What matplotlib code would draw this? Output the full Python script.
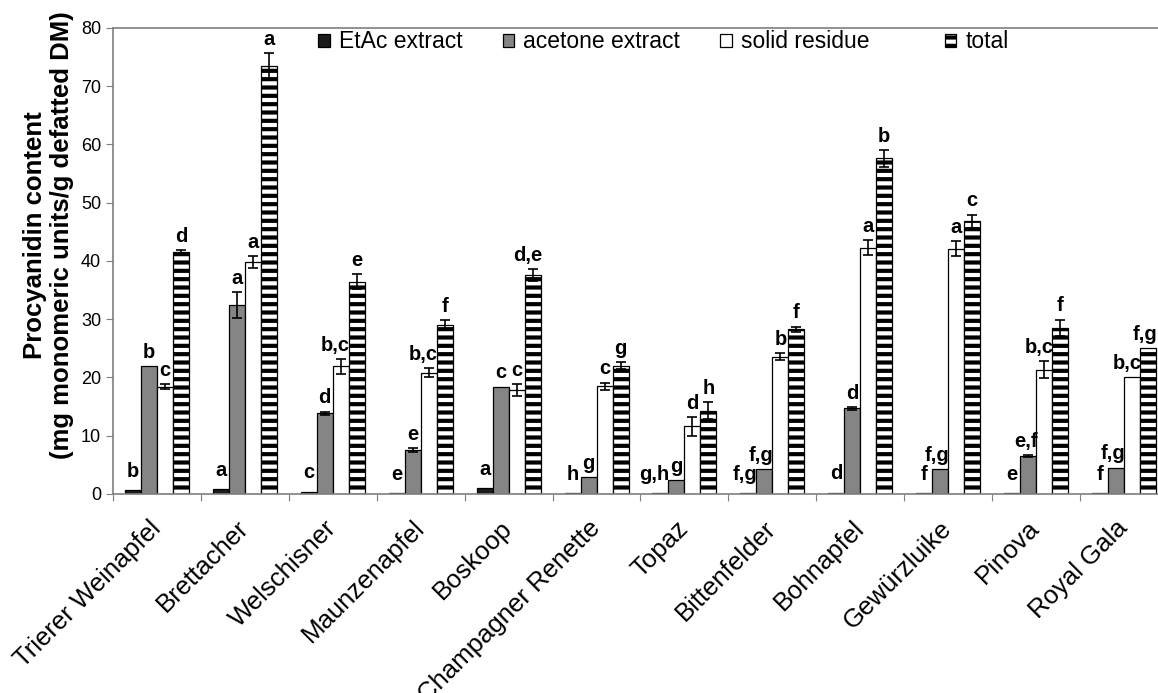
import numpy as np
import matplotlib
matplotlib.use("Agg")
import matplotlib.pyplot as plt

plt.rcParams['font.family'] = ['Liberation Sans', 'DejaVu Sans']
plt.rcParams['hatch.linewidth'] = 3.0

cultivars = ['Trierer Weinapfel', 'Brettacher', 'Welschisner', 'Maunzenapfel',
             'Boskoop', 'Champagner Renette', 'Topaz', 'Bittenfelder',
             'Bohnapfel', 'Gewürzluike', 'Pinova', 'Royal Gala']

etac = [0.6, 0.9, 0.4, 0.2, 1.0, 0.1, 0.1, 0.1, 0.25, 0.1, 0.2, 0.1]
acetone = [21.9, 32.4, 13.85, 7.55, 18.4, 2.9, 2.4, 4.3, 14.7, 4.3, 6.5, 4.5]
solid = [18.4, 39.8, 21.9, 20.8, 17.9, 18.5, 11.6, 23.6, 42.3, 42.1, 21.3, 20.0]
total = [41.5, 73.4, 36.45, 29.0, 37.6, 22.0, 14.3, 28.3, 57.6, 46.8, 28.5, 25.0]

etac_err = [0, 0, 0, 0, 0, 0, 0, 0, 0, 0, 0, 0]
acetone_err = [0, 2.2, 0.3, 0.3, 0, 0, 0, 0, 0.2, 0, 0.2, 0]
solid_err = [0.4, 1.0, 1.25, 0.75, 1.0, 0.6, 1.6, 0.55, 1.3, 1.25, 1.45, 0]
total_err = [0.4, 2.3, 1.25, 0.85, 1.0, 0.6, 1.45, 0.45, 1.4, 1.15, 1.45, 0]

etac_lab = ['b', 'a', 'c', 'e', 'a', 'h', 'g,h', 'f,g', 'd', 'f', 'e', 'f']
acetone_lab = ['b', 'a', 'd', 'e', 'c', 'g', 'g', 'f,g', 'd', 'f,g', 'e,f', 'f,g']
solid_lab = ['c', 'a', 'b,c', 'b,c', 'c', 'c', 'd', 'b', 'a', 'a', 'b,c', 'b,c']
total_lab = ['d', 'a', 'e', 'f', 'd,e', 'g', 'h', 'f', 'b', 'c', 'f', 'f,g']

series = [
    ('EtAc extract', etac, etac_err, etac_lab, dict(color='#1c1c1c')),
    ('acetone extract', acetone, acetone_err, acetone_lab, dict(color='#858585')),
    ('solid residue', solid, solid_err, solid_lab, dict(color='white')),
    ('total', total, total_err, total_lab, dict(color='white', hatch='--')),
]

fig = plt.figure(figsize=(11.58, 6.93), dpi=100)
ax = fig.add_axes([0.0976, 0.2872, 0.911, 0.6724])

x = np.arange(len(cultivars))
w = 0.182
handles = []
for k, (name, vals, errs, labs, style) in enumerate(series):
    pos = x + (k - 1.5) * w
    b = ax.bar(pos, vals, w, edgecolor='black', linewidth=0.9, label=name, **style)
    handles.append(b)
    errs_arr = np.array(errs)
    has = errs_arr > 0
    ax.errorbar(pos[has], np.array(vals)[has], yerr=errs_arr[has], fmt='none',
                ecolor='black', elinewidth=1.2, capsize=3.5, capthick=1.2)
    off = 9.5 if k == 0 else 6
    for xi, v, e, t in zip(pos, vals, errs, labs):
        if ',' in t:
            # wider letter groups sit flush with the bar's right edge
            ax.annotate(t, (xi + w / 2, v + e), xytext=(1, off), textcoords='offset points',
                        ha='right', va='baseline', fontsize=14.5, fontweight='bold')
        else:
            ax.annotate(t, (xi, v + e), xytext=(0, off), textcoords='offset points',
                        ha='center', va='baseline', fontsize=14.5, fontweight='bold')

ax.set_xlim(-0.5, len(cultivars) - 0.5)
ax.set_ylim(0, 80)
ax.set_yticks(np.arange(0, 81, 10))
ax.tick_params(axis='y', labelsize=13, direction='out', length=5, color='#7f7f7f')

ax.set_xticks(np.arange(-0.5, len(cultivars), 1.0))
ax.set_xticklabels([])
ax.tick_params(axis='x', which='major', direction='out', length=5, color='#7f7f7f')
ax.set_xticks(x, minor=True)
ax.set_xticklabels(cultivars, minor=True, rotation=45, ha='right',
                   rotation_mode='anchor', va='center', fontsize=18.5)
ax.tick_params(axis='x', which='minor', length=0, pad=22)

for sp in ax.spines.values():
    sp.set_color('#7f7f7f')
    sp.set_linewidth(1.2)

fig.text(0.042, 0.661, 'Procyanidin content\n(mg monomeric units/g defatted DM)',
         rotation=90, ha='center', va='center', fontsize=18.5, fontweight='bold',
         linespacing=1.12, multialignment='center')

leg1 = ax.legend(handles=handles[:3], loc='upper left', bbox_to_anchor=(0.186, 1.015),
                 ncol=3, frameon=False, fontsize=16.5, handlelength=0.5,
                 handleheight=0.5, handletextpad=0.4, columnspacing=1.75,
                 borderaxespad=0.0)
ax.add_artist(leg1)
ax.legend(handles=handles[3:], loc='upper left', bbox_to_anchor=(0.78, 1.015),
          frameon=False, fontsize=16.5, handlelength=0.5, handleheight=0.5,
          handletextpad=0.4, borderaxespad=0.0)

fig.savefig('out.png', dpi=100)
